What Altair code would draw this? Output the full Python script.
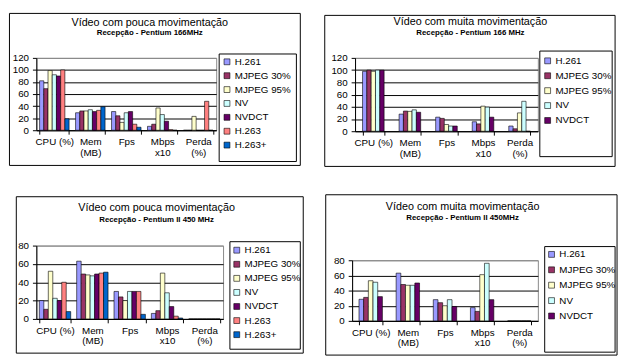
import altair as alt
import pandas as pd

FONT = "Liberation Sans"

categories = ["CPU (%)", "Mem\n(MB)", "Fps", "Mbps\nx10", "Perda\n(%)"]
series7 = ["H.261", "MJPEG 30%", "MJPEG 95%", "NV", "NVDCT", "H.263", "H.263+"]
series5 = ["H.261", "MJPEG 30%", "MJPEG 95%", "NV", "NVDCT"]
colors7 = ["#9999FF", "#993366", "#FFFFCC", "#CCFFFF", "#660066", "#FF8080", "#0066CC"]
colors5 = colors7[:5]

titles = [
    "Vídeo com pouca movimentação",
    "Vídeo com muita movimentação",
    "Vídeo com pouca movimentação",
    "Vídeo com muita movimentação",
]
subtitles = [
    "Recepção - Pentium 166MHz",
    "Recepção - Pentium 166 MHz",
    "Recepção - Pentium II 450 MHz",
    "Recepção - Pentium II 450MHz",
]

# values per series, in category order: CPU, Mem, Fps, Mbps x10, Perda
p1_values = {
    "H.261": [82, 29, 31, 6.5, 0],
    "MJPEG 30%": [69, 32, 24, 10, 0],
    "MJPEG 95%": [99, 32, 13, 37, 23],
    "NV": [92, 34, 29, 26, 0],
    "NVDCT": [90, 31, 31, 15, 0],
    "H.263": [100, 33, 10, 1, 48],
    "H.263+": [19, 39, 5, 0, 0],
}
p2_values = {
    "H.261": [98, 28, 23, 15.5, 8.5],
    "MJPEG 30%": [100, 33, 21, 12, 4],
    "MJPEG 95%": [98, 32.5, 11, 41, 30],
    "NV": [100, 35, 8.5, 39.5, 49],
    "NVDCT": [100, 31, 8.5, 23, 0],
}
p3_values = {
    "H.261": [20, 63, 30, 6, 0],
    "MJPEG 30%": [10.5, 49, 24, 9, 0],
    "MJPEG 95%": [52, 48, 20, 50, 0],
    "NV": [22.5, 47, 30, 28.5, 0],
    "NVDCT": [20, 49, 30, 13.5, 0],
    "H.263": [40, 50, 30, 3, 0],
    "H.263+": [8, 51, 5, 1, 0],
}
p4_values = {
    "H.261": [28.5, 63, 28, 17.5, 0],
    "MJPEG 30%": [31, 48, 24, 12.5, 0],
    "MJPEG 95%": [53, 47, 20, 61, 0],
    "NV": [51, 47, 28, 76, 0],
    "NVDCT": [32, 50, 19, 28, 0],
}
y_ticks_120 = [0, 20, 40, 60, 80, 100, 120]
y_ticks_80 = [0, 20, 40, 60, 80]


def panel(values, series, colors, ticks, title, subtitle, g):
    rows = []
    for s in series:
        for c, v in zip(categories, values[s]):
            rows.append({"cat": c, "series": s, "value": v})
    df = pd.DataFrame(rows)
    ymax = ticks[-1]
    one = pd.DataFrame({"t": [title], "s": [subtitle]})

    layout_rect = alt.Chart(one).mark_rect(opacity=0).encode(
        x=alt.value(g["layout"][0]), x2=alt.value(g["layout"][1]),
        y=alt.value(g["layout"][2]), y2=alt.value(g["layout"][3]))
    box = alt.Chart(one).mark_rect(fillOpacity=0, stroke="black", strokeWidth=1).encode(
        x=alt.value(g["box"][0]), x2=alt.value(g["box"][1]),
        y=alt.value(g["box"][2]), y2=alt.value(g["box"][3]))
    lbox = alt.Chart(one).mark_rect(fillOpacity=0, stroke="black", strokeWidth=1).encode(
        x=alt.value(g["lbox"][0]), x2=alt.value(g["lbox"][1]),
        y=alt.value(g["lbox"][2]), y2=alt.value(g["lbox"][3]))
    ttl = alt.Chart(one).mark_text(font=FONT, fontSize=11, color="black",
                                   align="center", baseline="alphabetic").encode(
        text="t:N", x=alt.value(g["title"][0]), y=alt.value(g["title"][1]))
    sub = alt.Chart(one).mark_text(font=FONT, fontSize=8, fontWeight="bold", color="black",
                                   align="center", baseline="alphabetic").encode(
        text="s:N", x=alt.value(g["title"][0]), y=alt.value(g["title"][2]))

    pi = g["pad"]
    bars = alt.Chart(df).mark_bar(stroke="black", strokeWidth=0.6).encode(
        x=alt.X("cat:N", sort=categories,
                scale=alt.Scale(domain=categories, paddingInner=pi, paddingOuter=pi / 2),
                axis=alt.Axis(title=None, labelAngle=0, labelExpr="split(datum.label, '\\n')",
                              labelFont=FONT, labelFontSize=10, labelColor="black",
                              labelLineHeight=10.5, labelPadding=3,
                              tickBand="extent", tickSize=4, tickColor="black",
                              domainColor="black", grid=False)),
        xOffset=alt.XOffset("series:N", sort=series,
                            scale=alt.Scale(domain=series, paddingInner=0, paddingOuter=0)),
        y=alt.Y("value:Q", scale=alt.Scale(domain=[0, ymax], nice=False),
                axis=alt.Axis(title=None, values=ticks, labelFont=FONT, labelFontSize=10,
                              labelColor="black", labelPadding=4, tickSize=4,
                              tickColor="black", domainColor="black", grid=True,
                              gridColor={"condition": {"test": f"datum.value >= {ymax}",
                                                       "value": "#888888"},
                                         "value": "black"},
                              gridOpacity=1)),
        color=alt.Color("series:N",
                        scale=alt.Scale(domain=series, range=colors),
                        legend=alt.Legend(title=None, orient="none",
                                          legendX=g["lx"], legendY=g["ly"],
                                          padding=0, rowPadding=g["rp"],
                                          symbolType="square", symbolSize=36,
                                          symbolStrokeColor="black", symbolStrokeWidth=0.6,
                                          symbolOpacity=1, labelFont=FONT, labelFontSize=10,
                                          labelColor="black", labelOffset=3)),
    )
    return alt.layer(layout_rect, box, lbox, bars, ttl, sub).properties(
        width=g["W"], height=g["H"])


g1 = dict(W=184, H=74, pad=0.18, layout=(-28, 278, -46, 122), box=(-27.5, 270, -45.5, 110),
          title=(116, -33, -23), lbox=(187, 266, -4, 106), lx=190, ly=-1, rp=4.2)
g2 = dict(W=187, H=75, pad=0.41, layout=(-39, 269, -44, 124), box=(-31, 266, -43.5, 111),
          title=(118, -34, -23.5), lbox=(189, 263, -7, 101), lx=192, ly=-2, rp=5.25)
g3 = dict(W=191, H=75, pad=0.16, layout=(-21, 285, -66, 113), box=(-20.5, 273, -50, 110),
          title=(123, -35, -24), lbox=(198, 270, -4, 106), lx=200, ly=-0.3, rp=4.4)
g4 = dict(W=190, H=62, pad=0.37, layout=(-36, 272, -81, 98), box=(-27, 271, -67, 97),
          title=(113, -51, -41), lbox=(197, 269, -14, 94), lx=199, ly=-11, rp=5.75)

p1 = panel(p1_values, series7, colors7, y_ticks_120, titles[0], subtitles[0], g1)
p2 = panel(p2_values, series5, colors5, y_ticks_120, titles[1], subtitles[1], g2)
p3 = panel(p3_values, series7, colors7, y_ticks_80, titles[2], subtitles[2], g3)
p4 = panel(p4_values, series5, colors5, y_ticks_80, titles[3], subtitles[3], g4)

chart = alt.concat(p1, p2, p3, p4, columns=2, spacing=0, align="none").resolve_scale(
    color="independent", x="independent", y="independent", xOffset="independent"
).resolve_legend(color="independent").configure_view(
    stroke="#888888", strokeWidth=1
).properties(padding=0, background="white")

chart.save("out.html", embed_options={"renderer": "svg", "actions": False})
